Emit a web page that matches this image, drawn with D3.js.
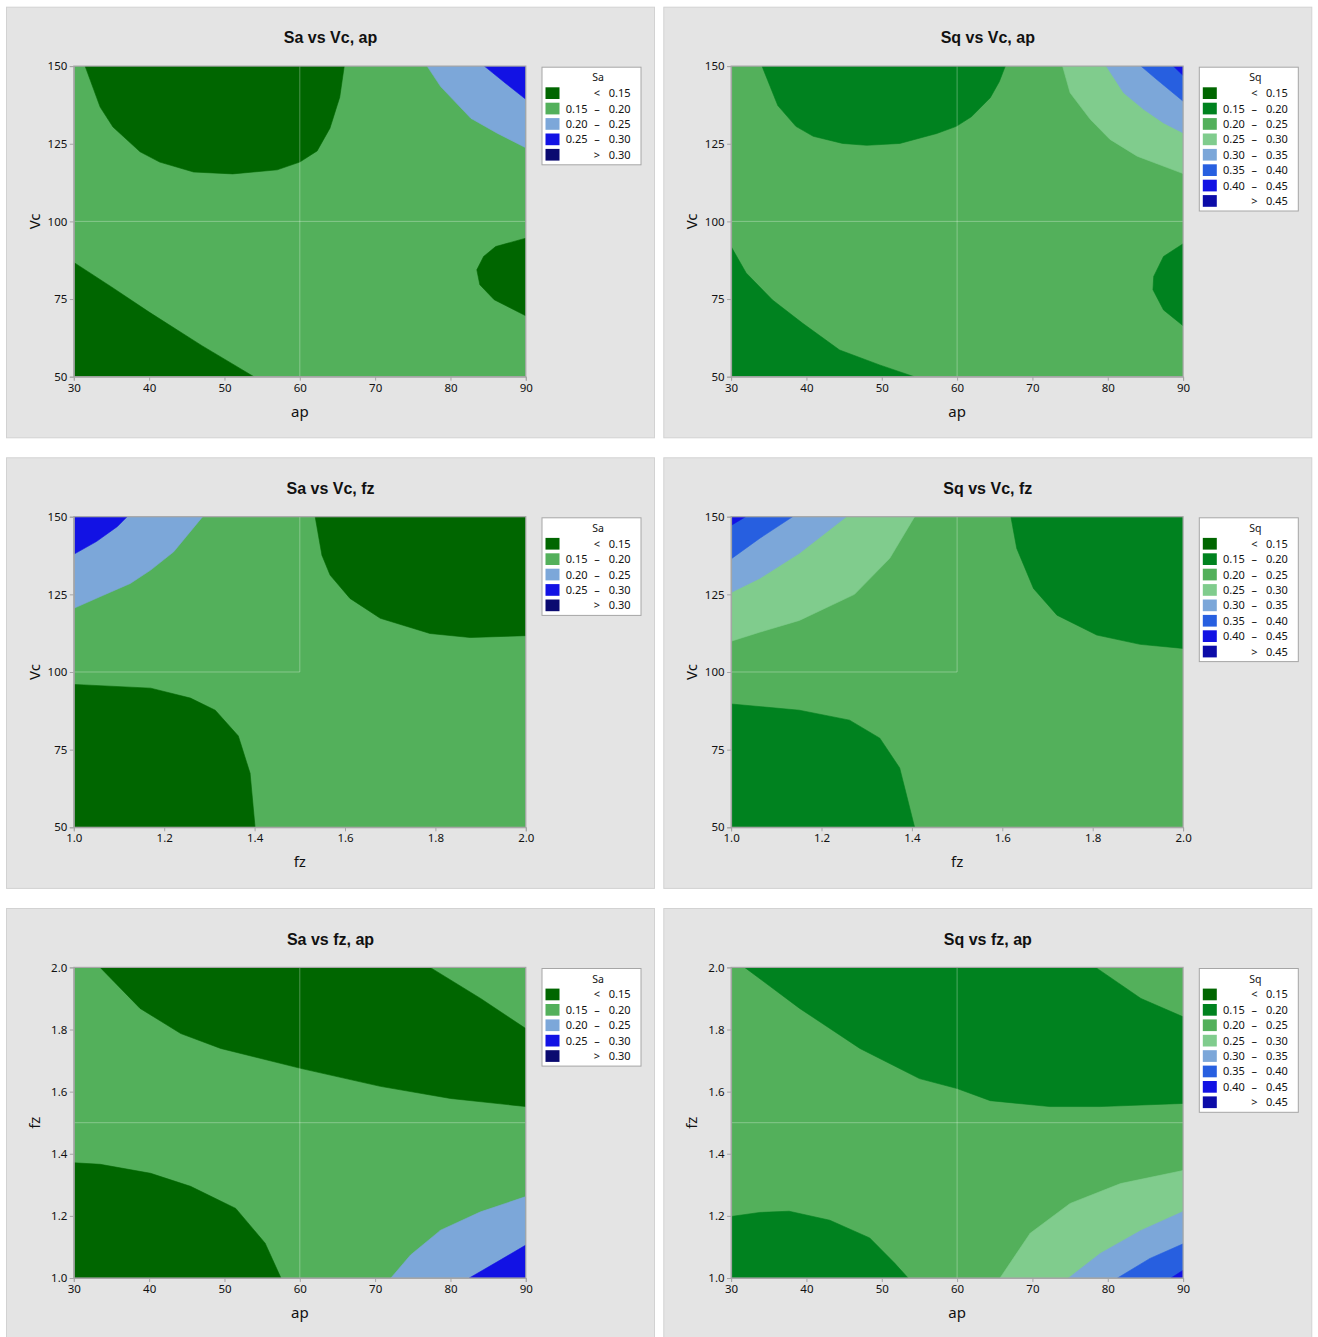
<!DOCTYPE html>
<html><head><meta charset="utf-8">
<script src="https://cdn.jsdelivr.net/npm/d3@7"></script>
<style>body{margin:0;background:#fff}</style></head><body>
<script>
// ---- tick values ----
const apTicks = [30, 40, 50, 60, 70, 80, 90];
const vcTicks = [50, 75, 100, 125, 150];
const fzTicks = [1.0, 1.2, 1.4, 1.6, 1.8, 2.0];

// ---- legend levels ----
const saLevels = [["", "<", "0.15"], ["0.15", "–", "0.20"], ["0.20", "–", "0.25"], ["0.25", "–", "0.30"], ["", ">", "0.30"]];
const sqLevels = [["", "<", "0.15"], ["0.15", "–", "0.20"], ["0.20", "–", "0.25"], ["0.25", "–", "0.30"],
                  ["0.30", "–", "0.35"], ["0.35", "–", "0.40"], ["0.40", "–", "0.45"], ["", ">", "0.45"]];

// ---- contour region boundaries (data coords) ----
// Sa vs Vc, ap  (x = ap, y = Vc)
const saVcAp_topDark = [[31.5,150],[33.5,136.8],[35.2,130.4],[38.8,122.4],[41.4,119.1],[45.9,115.9],[51.1,115.3],[57,116.6],[60,119.1],[62.3,122.7],[64,130],[65.3,140],[65.9,150]];
const saVcAp_band20 = [[76.9,150],[78.7,143.4],[82.7,133.2],[86.2,128.4],[90,123.7],[90,150]];
const saVcAp_band25 = [[84.5,150],[87.3,144.5],[90,139.3],[90,150]];
const saVcAp_botDark = [[30,86.8],[35,78.9],[40,70.8],[47,60],[53.9,50],[30,50]];
const saVcAp_rightDark = [[90,94.6],[86.0,91.9],[84.4,88.7],[83.5,84.4],[83.9,79.6],[85.8,74.8],[90,69.6]];

// Sq vs Vc, ap
const sqVcAp_topDark = [[34.1,150],[36.2,137.3],[38.6,130.6],[40.9,127.4],[44.8,125.1],[48.0,124.5],[52.4,125.1],[57.3,128.3],[59.9,130.6],[61.9,133.7],[64.4,139.8],[65.6,145],[66.4,150]];
const sqVcAp_band25 = [[74.0,150],[75.0,141.4],[77.7,132.8],[80.3,126.4],[83.9,121.0],[90,115.4],[90,150]];
const sqVcAp_band30 = [[79.8,150],[82.1,141.4],[84.8,136.0],[87.4,131.7],[90,128.5],[90,150]];
const sqVcAp_band35 = [[84.4,150],[86.5,145.7],[90,138.7],[90,150]];
const sqVcAp_band40 = [[88.7,150],[90,147],[90,150]];
const sqVcAp_botDark = [[30,91.9],[32.0,83.4],[35.5,74.7],[39.5,67.2],[44.4,58.6],[49.7,53.8],[54.3,50],[30,50]];
const sqVcAp_rightDark = [[90,92.8],[87.4,88.7],[86.1,82.3],[86.0,78.0],[87.4,71.5],[90,66.4]];

// Sa vs Vc, fz (x = fz, y = Vc)
const saVcFz_band20 = [[1.285,150],[1.221,138.7],[1.170,132.8],[1.125,128.5],[1.059,124.3],[1.0,120.5],[1.0,150]];
const saVcFz_band25 = [[1.118,150],[1.096,146.8],[1.05,142],[1.0,137.9],[1.0,150]];
const saVcFz_topDark = [[1.534,150],[1.549,137.6],[1.567,131.2],[1.611,123.7],[1.678,117.3],[1.788,112.4],[1.877,111.1],[2.0,111.7],[2.0,150]];
const saVcFz_botDark = [[1.0,96.0],[1.17,94.8],[1.258,91.6],[1.313,87.7],[1.364,79.4],[1.39,67.4],[1.401,50],[1.0,50]];

// Sq vs Vc, fz
const sqVcFz_band25 = [[1.406,150],[1.351,136.6],[1.273,125],[1.151,116.6],[1.063,112.8],[1.0,109.9],[1.0,150]];
const sqVcFz_band30 = [[1.255,150],[1.151,138.2],[1.063,130.1],[1.0,125.6],[1.0,150]];
const sqVcFz_band35 = [[1.136,150],[1.063,143],[1.0,136.4],[1.0,150]];
const sqVcFz_band40 = [[1.032,150],[1.0,147.2],[1.0,150]];
const sqVcFz_topDark = [[1.619,150],[1.632,139.8],[1.669,126.9],[1.721,118.3],[1.809,111.9],[1.905,108.9],[2.0,107.6],[2.0,150]];
const sqVcFz_botDark = [[1.0,89.7],[1.151,87.7],[1.262,84.5],[1.329,78.7],[1.373,69.1],[1.406,50],[1.0,50]];

// Sa vs fz, ap (x = ap, y = fz)
const saFzAp_topDark = [[33.5,2.0],[38.8,1.868],[44.2,1.787],[49.5,1.739],[60.1,1.675],[70.7,1.617],[80.0,1.578],[90,1.552],[90,1.803],[84,1.90],[77.3,2.0]];
const saFzAp_botDark = [[30,1.371],[33.5,1.366],[40.2,1.337],[45.5,1.295],[51.5,1.224],[55.4,1.112],[57.5,1.0],[30,1.0]];
const saFzAp_band20 = [[72.1,1.0],[74.7,1.074],[78.7,1.154],[84.0,1.213],[90,1.262],[90,1.0]];
const saFzAp_band25 = [[82.5,1.0],[86.2,1.052],[90,1.106],[90,1.0]];

// Sq vs fz, ap
const sqFzAp_topDark = [[31.8,2.0],[39.1,1.868],[47.1,1.739],[55.0,1.642],[60,1.61],[64.4,1.571],[72.3,1.552],[79.0,1.552],[90,1.562],[90,1.841],[84.4,1.90],[78.4,2.0]];
const sqFzAp_botDark = [[30,1.198],[33.8,1.211],[37.7,1.215],[43.1,1.186],[48.4,1.129],[51.7,1.048],[53.5,1.0],[30,1.0]];
const sqFzAp_band25 = [[65.7,1.0],[69.7,1.144],[75.0,1.240],[81.7,1.304],[90,1.346],[90,1.0]];
const sqFzAp_band30 = [[74.8,1.0],[79.0,1.079],[84.4,1.153],[90,1.214],[90,1.0]];
const sqFzAp_band35 = [[81.3,1.0],[85.6,1.063],[90,1.11],[90,1.0]];
const sqFzAp_band40 = [[88.4,1.0],[90,1.025],[90,1.0]];

// ---- styles ----
const saColors = ["#006600", "#53b05b", "#7ca7d9", "#1212e4", "#0a0a70"];
const sqColors = ["#006600", "#00821f", "#53b05b", "#80cc8d", "#7ca7d9", "#275fe0", "#1212e4", "#0c0ca8"];

const panelW = 649, panelH = 431.6;
const plot = {x: 67.8, y: 59.4, w: 452, h: 310.6};

const specs = [
  {col:0,row:0,title:"Sa vs Vc, ap",xl:"ap",yl:"Vc",xd:[30,90],yd:[50,150],xt:apTicks,yt:vcTicks,xf:d3.format("d"),yf:d3.format("d"),
   z:"Sa",levels:saLevels,colors:saColors,bg:1,
   regions:[[saVcAp_topDark,0],[saVcAp_band20,2],[saVcAp_band25,3],[saVcAp_botDark,0],[saVcAp_rightDark,0]],ref:"cross",rx:60,ry:100},
  {col:1,row:0,title:"Sq vs Vc, ap",xl:"ap",yl:"Vc",xd:[30,90],yd:[50,150],xt:apTicks,yt:vcTicks,xf:d3.format("d"),yf:d3.format("d"),
   z:"Sq",levels:sqLevels,colors:sqColors,bg:2,
   regions:[[sqVcAp_topDark,1],[sqVcAp_band25,3],[sqVcAp_band30,4],[sqVcAp_band35,5],[sqVcAp_band40,6],[sqVcAp_botDark,1],[sqVcAp_rightDark,1]],ref:"cross",rx:60,ry:100},
  {col:0,row:1,title:"Sa vs Vc, fz",xl:"fz",yl:"Vc",xd:[1,2],yd:[50,150],xt:fzTicks,yt:vcTicks,xf:d3.format(".1f"),yf:d3.format("d"),
   z:"Sa",levels:saLevels,colors:saColors,bg:1,
   regions:[[saVcFz_band20,2],[saVcFz_band25,3],[saVcFz_topDark,0],[saVcFz_botDark,0]],ref:"box",rx:1.5,ry:100},
  {col:1,row:1,title:"Sq vs Vc, fz",xl:"fz",yl:"Vc",xd:[1,2],yd:[50,150],xt:fzTicks,yt:vcTicks,xf:d3.format(".1f"),yf:d3.format("d"),
   z:"Sq",levels:sqLevels,colors:sqColors,bg:2,
   regions:[[sqVcFz_band25,3],[sqVcFz_band30,4],[sqVcFz_band35,5],[sqVcFz_band40,6],[sqVcFz_topDark,1],[sqVcFz_botDark,1]],ref:"box",rx:1.5,ry:100},
  {col:0,row:2,title:"Sa vs fz, ap",xl:"ap",yl:"fz",xd:[30,90],yd:[1,2],xt:apTicks,yt:fzTicks,xf:d3.format("d"),yf:d3.format(".1f"),
   z:"Sa",levels:saLevels,colors:saColors,bg:1,
   regions:[[saFzAp_topDark,0],[saFzAp_botDark,0],[saFzAp_band20,2],[saFzAp_band25,3]],ref:"cross",rx:60,ry:1.5},
  {col:1,row:2,title:"Sq vs fz, ap",xl:"ap",yl:"fz",xd:[30,90],yd:[1,2],xt:apTicks,yt:fzTicks,xf:d3.format("d"),yf:d3.format(".1f"),
   z:"Sq",levels:sqLevels,colors:sqColors,bg:2,
   regions:[[sqFzAp_topDark,1],[sqFzAp_botDark,1],[sqFzAp_band25,3],[sqFzAp_band30,4],[sqFzAp_band35,5],[sqFzAp_band40,6]],ref:"cross",rx:60,ry:1.5}
];
const colX = [6, 663.3], rowY = [6.7, 457.3, 908];

const svg = d3.select("body").append("svg").attr("width",1318).attr("height",1337);
const font = "'Noto Sans', 'Open Sans', sans-serif";

specs.forEach((s, i) => {
  const g = svg.append("g").attr("transform", `translate(${colX[s.col]},${rowY[s.row]})`);
  g.append("rect").attr("x",0.5).attr("y",0.5).attr("width",panelW-1).attr("height",panelH-1)
    .attr("fill","#e4e4e4").attr("stroke","#d2d2d2");
  g.append("text").attr("x",panelW/2).attr("y",36.6).attr("text-anchor","middle")
    .attr("font-family","'Liberation Sans', Arial, sans-serif").attr("font-weight","bold").attr("font-size",16)
    .attr("fill","#111").text(s.title);

  const x = d3.scaleLinear().domain(s.xd).range([plot.x, plot.x+plot.w]);
  const y = d3.scaleLinear().domain(s.yd).range([plot.y+plot.h, plot.y]);
  const clipId = "clip"+i;
  g.append("clipPath").attr("id",clipId).append("rect")
    .attr("x",plot.x).attr("y",plot.y).attr("width",plot.w).attr("height",plot.h);
  const pg = g.append("g").attr("clip-path",`url(#${clipId})`);
  pg.append("rect").attr("x",x(s.xd[0])).attr("y",y(s.yd[1])).attr("width",x(s.xd[1])-x(s.xd[0])).attr("height",y(s.yd[0])-y(s.yd[1]))
    .attr("fill",s.colors[s.bg]);
  const line = d3.line().x(d=>x(d[0])).y(d=>y(d[1]));
  s.regions.forEach(([pts, lvl]) => {
    pg.append("path").attr("d", line(pts)+"Z").attr("fill", s.colors[lvl])
      .attr("stroke", s.colors[lvl]).attr("stroke-width",0.6);
  });
  // reference lines
  const refStyle = sel => sel.attr("stroke","#ffffff").attr("stroke-opacity",0.3).attr("stroke-width",1);
  if (s.ref === "cross") {
    pg.append("line").attr("x1",x(s.rx)).attr("x2",x(s.rx)).attr("y1",y(s.yd[0])).attr("y2",y(s.yd[1])).call(refStyle);
    pg.append("line").attr("x1",x(s.xd[0])).attr("x2",x(s.xd[1])).attr("y1",y(s.ry)).attr("y2",y(s.ry)).call(refStyle);
  } else {
    pg.append("line").attr("x1",x(s.rx)).attr("x2",x(s.rx)).attr("y1",y(s.ry)).attr("y2",y(s.yd[1])).call(refStyle);
    pg.append("line").attr("x1",x(s.xd[0])).attr("x2",x(s.rx)).attr("y1",y(s.ry)).attr("y2",y(s.ry)).call(refStyle);
  }
  // frame
  g.append("rect").attr("x",plot.x).attr("y",plot.y).attr("width",plot.w).attr("height",plot.h)
    .attr("fill","none").attr("stroke","#a6a6a6").attr("stroke-width",1.2);

  // axes
  const xa = g.append("g").attr("transform",`translate(0,${plot.y+plot.h})`)
    .call(d3.axisBottom(x).tickValues(s.xt).tickFormat(s.xf).tickSize(4).tickPadding(3));
  const ya = g.append("g").attr("transform",`translate(${plot.x},0)`)
    .call(d3.axisLeft(y).tickValues(s.yt).tickFormat(s.yf).tickSize(4).tickPadding(2.5));
  [xa, ya].forEach(a => {
    a.select(".domain").attr("stroke","#a6a6a6");
    a.selectAll(".tick line").attr("stroke","#a6a6a6");
    a.selectAll(".tick text").attr("font-family",font).attr("font-size",11.5).attr("fill","#111");
  });
  g.append("text").attr("x",plot.x+plot.w/2).attr("y",410).attr("text-anchor","middle")
    .attr("font-family",font).attr("font-size",15).attr("fill","#111").text(s.xl);
  g.append("text").attr("transform",`translate(34,${plot.y+plot.h/2}) rotate(-90)`).attr("text-anchor","middle")
    .attr("font-family",font).attr("font-size",15).attr("fill","#111").text(s.yl);

  // legend
  const lg = g.append("g").attr("transform","translate(535.5,60)");
  const n = s.levels.length;
  const rowH = 15.4;
  lg.append("rect").attr("x",0.5).attr("y",0.5).attr("width",99).attr("height",20.6+n*rowH)
    .attr("fill","#fff").attr("stroke","#a6a6a6");
  lg.append("text").attr("x",56.5).attr("y",14.5).attr("text-anchor","middle")
    .attr("font-family",font).attr("font-size",10.5).attr("fill","#111").text(s.z);
  s.levels.forEach((lv, k) => {
    const ty = 20.6 + k*rowH;
    lg.append("rect").attr("x",4).attr("y",ty).attr("width",14).attr("height",11.7).attr("fill",s.colors[k]);
    const tt = ty + 6;
    lg.append("text").attr("x",46).attr("y",tt).attr("dy","0.35em").attr("text-anchor","end")
      .attr("font-family",font).attr("font-size",11).attr("fill","#111").text(lv[0]);
    lg.append("text").attr("x",55.5).attr("y",tt).attr("dy","0.35em").attr("text-anchor","middle")
      .attr("font-family",font).attr("font-size",11).attr("fill","#111").text(lv[1]);
    lg.append("text").attr("x",89).attr("y",tt).attr("dy","0.35em").attr("text-anchor","end")
      .attr("font-family",font).attr("font-size",11).attr("fill","#111").text(lv[2]);
  });
});
</script>
</body></html>
